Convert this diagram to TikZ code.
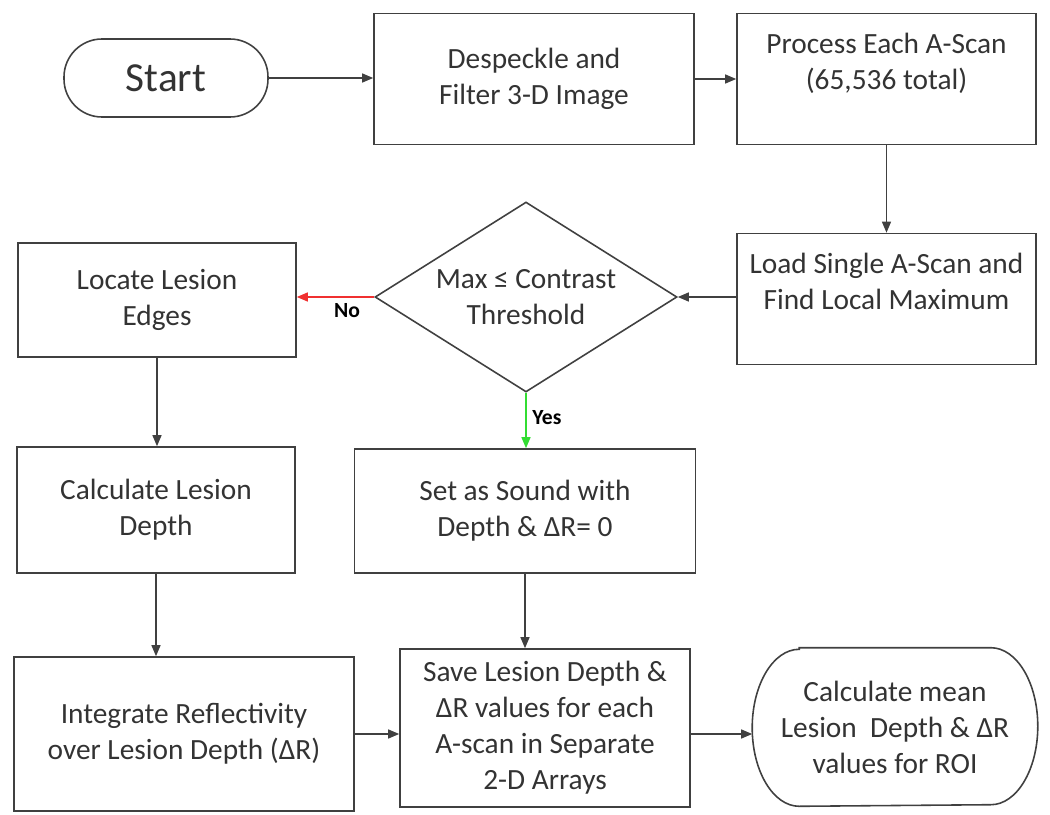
\documentclass[tikz,border=0pt]{standalone}
\usepackage{fontspec}
\setmainfont{Carlito}
\usetikzlibrary{
    arrows.meta,
    positioning,
    shapes.geometric
}
\definecolor{lineGray}{HTML}{404040}
\definecolor{textGray}{HTML}{333333}
\definecolor{noRed}{HTML}{F03030}
\definecolor{yesGreen}{HTML}{33DD33}
\tikzset{
    >={Triangle[length=2.2mm,width=1.8mm]},
    % For the flow chart
    stepBox/.style={
        draw=lineGray,
        line width=0.9pt,
        text=textGray,
        align=center,
        inner sep=0pt,
        font=\fontsize{16.7}{20.5}\selectfont
    },
    terminal/.style={
        stepBox,
        rounded corners=7.6mm
    },
    decision/.style={
        stepBox,
        diamond,
        aspect=1.6
    },
    % Connectors
    flow/.style={
        ->,
        draw=lineGray,
        line width=0.7pt
    },
    noFlow/.style={
        flow,
        draw=noRed
    },
    yesFlow/.style={
        flow,
        draw=yesGreen
    },
    branchLabel/.style={
        text=black,
        font=\fontsize{12.3}{14}\bfseries
    }
}

\begin{document}
\begin{tikzpicture}[x=0.2mm, y=-0.2mm]

    \useasboundingbox (0,0) rectangle (1050,815);

    % top row
    \node[terminal, minimum width=40.8mm, minimum height=15.6mm,
        font=\fontsize{23.5}{28}\selectfont] (start) at (166,78) {Start};
    \node[stepBox, minimum width=64mm, minimum height=26.2mm] (despeckle) at (534,79)
        {Despeckle and\\Filter 3-D Image};
    \node[stepBox, minimum width=59.8mm, minimum height=26.2mm] (process) at (886.5,79)
        {Process Each A-Scan\\(65,536 total)\\~};

    % second row
    \node[stepBox, minimum width=59.8mm, minimum height=26.2mm] (load) at (886.5,299)
        {Load Single A-Scan and\\Find Local Maximum\\~};
    \node[decision, minimum width=60.4mm, minimum height=38mm] (decision) at (526,297)
        {Max ≤ Contrast\\Threshold};
    \node[stepBox, minimum width=55.6mm, minimum height=22.8mm] (locate) at (157,300)
        {Locate Lesion\\Edges};

    % third row
    \node[stepBox, minimum width=55.6mm, minimum height=25.2mm] (calcDepth) at (156,510)
        {Calculate Lesion\\Depth};
    \node[stepBox, minimum width=68.2mm, minimum height=24.8mm] (setSound) at (525,511)
        {Set as Sound with\\Depth \& ΔR= 0};

    % bottom row
    \node[stepBox, minimum width=68mm, minimum height=30.8mm] (integrate) at (184,734)
        {Integrate Reflectivity\\over Lesion Depth (ΔR)};
    \node[stepBox, minimum width=58mm, minimum height=31.6mm] (save) at (545,728)
        {Save Lesion Depth \&\\ΔR values for each\\A-scan in Separate\\2-D Arrays};
    \node[stepBox, draw=none, minimum width=56.8mm, minimum height=31.4mm] (mean) at (895,727)
        {Calculate mean\\Lesion~ Depth \& ΔR\\values for ROI};
    % end shape with elliptic sides
    \draw[draw=lineGray, line width=0.9pt]
        ([xshift=9.4mm]mean.north west) -- ([xshift=-9.4mm]mean.north east)
        arc[start angle=90, end angle=-90, x radius=9.4mm, y radius=15.7mm]
        -- ([xshift=9.4mm]mean.south west)
        arc[start angle=270, end angle=90, x radius=9.4mm, y radius=15.7mm] -- cycle;

    \draw[flow] (start.east) -- (start.east -| despeckle.west);
    \draw[flow] (despeckle) -- (process);
    \draw[flow] (process) -- (load);
    \draw[flow] (load.west |- decision.east) -- (decision.east);
    \draw[noFlow] (decision.west) -- node[branchLabel, pos=0.35, below] {No} (decision.west -| locate.east);
    \draw[yesFlow] (decision.south) -- node[branchLabel, pos=0.44, right] {Yes} (decision.south |- setSound.north);
    \draw[flow] (locate.south) -- (locate.south |- calcDepth.north);
    \draw[flow] (calcDepth.south) -- (calcDepth.south |- integrate.north);
    \draw[flow] (setSound.south) -- (setSound.south |- save.north);
    \draw[flow] (integrate.east) -- (integrate.east -| save.west);
    \draw[flow] (save.east |- integrate.east) -- (mean.west |- integrate.east);

\end{tikzpicture}
\end{document}
